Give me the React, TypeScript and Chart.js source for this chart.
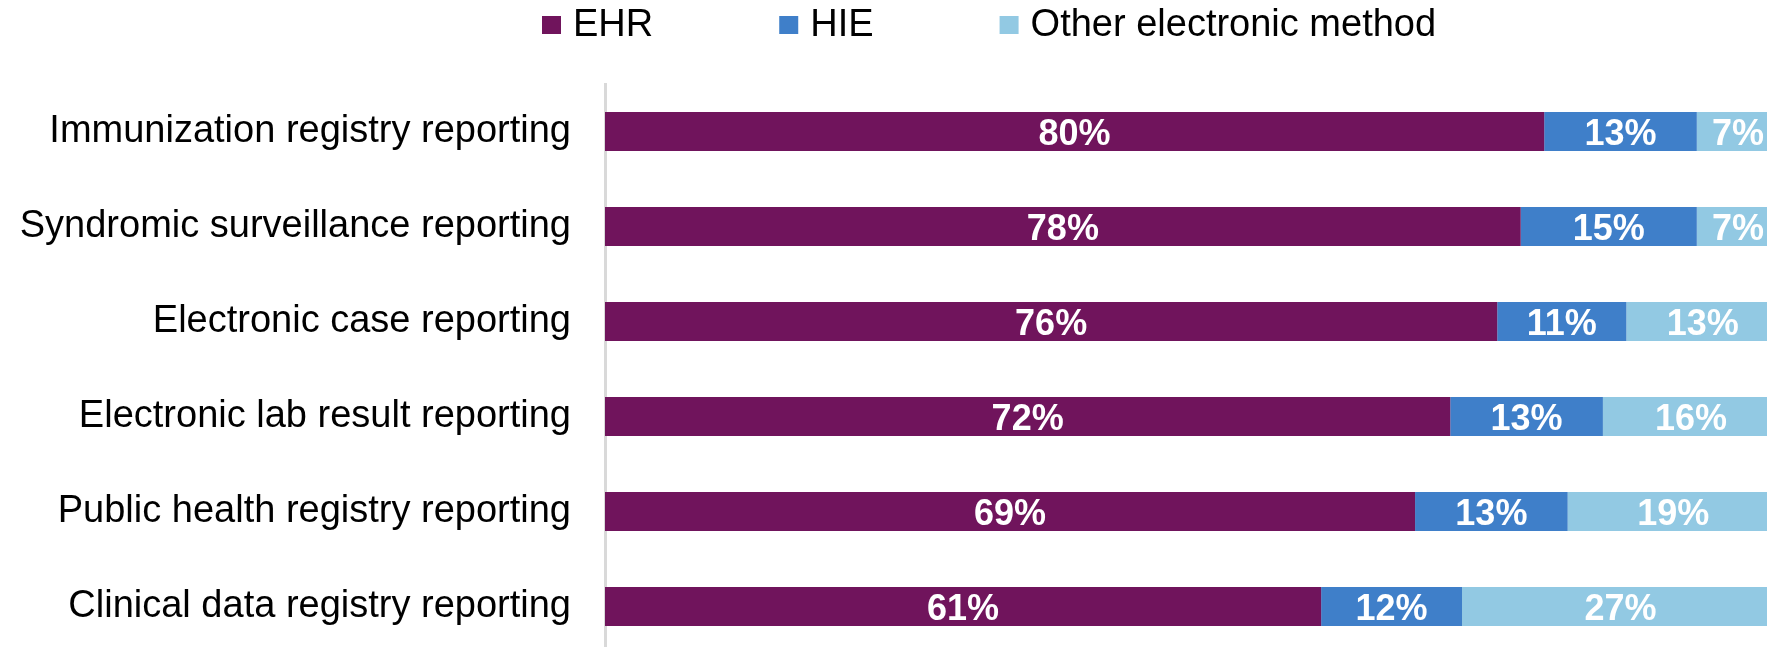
import React, { useEffect, useRef } from "react";
import { Chart, registerables } from "chart.js";

Chart.register(...registerables);

// ---------- data ----------
const categories = [
  "Immunization registry reporting",
  "Syndromic surveillance reporting",
  "Electronic case reporting",
  "Electronic lab result reporting",
  "Public health registry reporting",
  "Clinical data registry reporting",
];
const seriesNames = ["EHR", "HIE", "Other electronic method"];
const ehrValues = [80, 78, 76, 72, 69, 61];
const hieValues = [13, 15, 11, 13, 13, 12];
const otherValues = [7, 7, 13, 16, 19, 27];
const seriesColors = ["#70145C", "#3F7FC9", "#92C9E3"];

// ---------- layout / style ----------
const FONT = "'Liberation Sans', Arial, Helvetica, sans-serif";
const CANVAS_W = 1800;
const CANVAS_H = 660;
const LEGEND_LEFT = 542;
const LEGEND_BOX_TOP = 16;
const LEGEND_BOX_W = 19;
const LEGEND_BOX_H = 18;
const LEGEND_TEXT_GAP = 12;
const LEGEND_ITEM_GAP = 126;
const LEGEND_BASELINE = 36;

const topLegendPlugin = {
  id: "topLegend",
  afterDraw(chart: any) {
    const ctx = chart.ctx;
    ctx.save();
    ctx.font = `38px ${FONT}`;
    ctx.textAlign = "left";
    ctx.textBaseline = "alphabetic";
    let x = LEGEND_LEFT;
    chart.data.datasets.forEach((ds: any) => {
      ctx.fillStyle = ds.backgroundColor;
      ctx.fillRect(x, LEGEND_BOX_TOP, LEGEND_BOX_W, LEGEND_BOX_H);
      const tx = x + LEGEND_BOX_W + LEGEND_TEXT_GAP;
      ctx.fillStyle = "#000000";
      ctx.fillText(ds.label, tx, LEGEND_BASELINE);
      x = tx + ctx.measureText(ds.label).width + LEGEND_ITEM_GAP;
    });
    ctx.restore();
  },
};

const valueLabelPlugin = {
  id: "valueLabels",
  afterDatasetsDraw(chart: any) {
    const { ctx, chartArea } = chart;
    ctx.save();
    ctx.font = `bold 36px ${FONT}`;
    ctx.fillStyle = "#FFFFFF";
    ctx.textAlign = "center";
    ctx.textBaseline = "alphabetic";
    chart.data.datasets.forEach((ds: any, di: number) => {
      const meta = chart.getDatasetMeta(di);
      meta.data.forEach((bar: any, i: number) => {
        const p = bar.getProps(["x", "base", "y"], true);
        const left = Math.max(Math.min(p.x, p.base), chartArea.left);
        const right = Math.min(Math.max(p.x, p.base), chartArea.right);
        const cx = (left + right) / 2;
        ctx.fillText(`${ds.data[i]}%`, cx, p.y + 13.5);
      });
    });
    ctx.restore();
  },
};

export default function App() {
  const canvasRef = useRef<HTMLCanvasElement | null>(null);

  useEffect(() => {
    if (!canvasRef.current) return;
    const seriesValues = [ehrValues, hieValues, otherValues];
    const chart = new Chart(canvasRef.current, {
      type: "bar",
      data: {
        labels: categories,
        datasets: seriesNames.map((name, k) => ({
          label: name,
          data: seriesValues[k],
          backgroundColor: seriesColors[k],
          borderWidth: 0,
          barPercentage: 0.41,
          categoryPercentage: 1,
        })),
      },
      options: {
        indexAxis: "y",
        responsive: false,
        animation: false,
        devicePixelRatio: 1,
        layout: { padding: { top: 84, right: 21, bottom: 6, left: 0 } },
        plugins: {
          legend: { display: false },
          tooltip: { enabled: false },
          title: { display: false },
        },
        scales: {
          x: {
            stacked: true,
            min: 0,
            max: 100,
            display: false,
          },
          y: {
            stacked: true,
            grid: { display: false, drawTicks: false },
            border: { display: true, color: "#D9D9D9", width: 3 },
            ticks: {
              color: "#000000",
              font: { family: FONT, size: 38 },
              padding: 34,
              autoSkip: false,
            },
            afterFit: (scale: any) => {
              scale.width = 605;
              scale.paddingTop = 0;
              scale.paddingBottom = 0;
            },
          },
        },
      },
      plugins: [topLegendPlugin, valueLabelPlugin],
    });
    return () => chart.destroy();
  }, []);

  return (
    <div
      style={{
        position: "absolute",
        left: 0,
        top: 0,
        width: 1767,
        height: 647,
        overflow: "hidden",
        background: "#FFFFFF",
      }}
    >
      <canvas
        ref={canvasRef}
        width={CANVAS_W}
        height={CANVAS_H}
        style={{ display: "block", width: CANVAS_W, height: CANVAS_H }}
      />
    </div>
  );
}
